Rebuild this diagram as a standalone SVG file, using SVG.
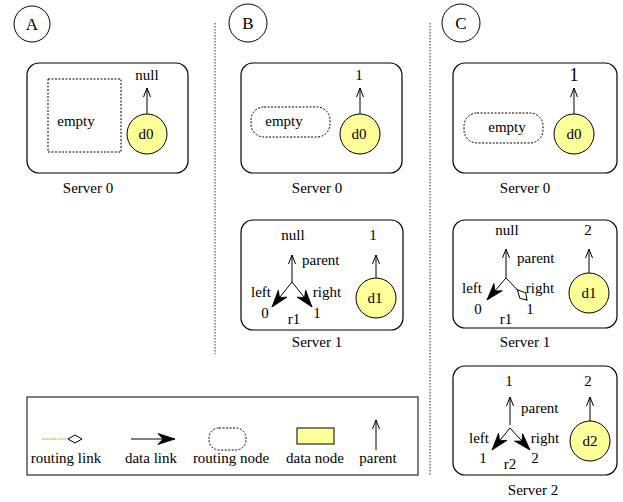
<svg xmlns="http://www.w3.org/2000/svg" width="623" height="502" viewBox="0 0 623 502">
<style>
text{font-family:"Liberation Serif","Times New Roman",serif;font-size:15px;fill:#000;text-anchor:middle}
.st{text-anchor:start}
.lbl{font-size:17px}
.srv{fill:none;stroke:#000;stroke-width:1.2}
.dnode{fill:#ffff99;stroke:#000;stroke-width:1}
.rnode{fill:none;stroke:#000;stroke-width:1;stroke-dasharray:2,1.5}
.sep{stroke:#333;stroke-width:1;stroke-dasharray:1.5,1.5}
.par{stroke:#000;stroke-width:1;fill:none;marker-end:url(#mPar)}
.dat{stroke:#000;stroke-width:1;fill:none;marker-end:url(#mDat)}
.rou{stroke:#000;stroke-width:1;fill:none;marker-end:url(#mRou)}
</style>
<defs>
<marker id="mPar" markerUnits="userSpaceOnUse" viewBox="-10 -6 12 12" refX="0" refY="0" markerWidth="12" markerHeight="12" orient="auto">
<path d="M-9,-3.5 L0,0 L-9,3.5" fill="none" stroke="#000" stroke-width="1"/>
</marker>
<marker id="mDat" markerUnits="userSpaceOnUse" viewBox="-18 -7 20 14" refX="0" refY="0" markerWidth="20" markerHeight="14" orient="auto">
<path d="M0,0 L-17,-5.5 L-12,0 L-17,5.5 Z" fill="#000" stroke="#000" stroke-width="0.8"/>
</marker>
<marker id="mRou" markerUnits="userSpaceOnUse" viewBox="-16 -6 18 12" refX="0" refY="0" markerWidth="18" markerHeight="12" orient="auto">
<path d="M0,0 L-6,-4 L-14,0 L-6,4 Z" fill="#fff" stroke="#000" stroke-width="1"/>
</marker>
</defs>

<g id="separators">
<line class="sep" x1="215" y1="23" x2="215" y2="354"/>
<line class="sep" x1="430" y1="23" x2="430" y2="476"/>
</g>

<g id="labelA"><circle cx="32" cy="24" r="18" fill="none" stroke="#000"/><text class="lbl" x="32" y="30">A</text></g>
<g id="labelB"><circle cx="248" cy="23" r="19" fill="none" stroke="#000"/><text class="lbl" x="248" y="29">B</text></g>
<g id="labelC"><circle cx="461" cy="23" r="19" fill="none" stroke="#000"/><text class="lbl" x="461" y="29">C</text></g>

<!-- Panel A -->
<g id="A-server0">
<rect class="srv" x="27" y="63" width="161" height="110" rx="12"/>
<rect class="rnode" x="48" y="79" width="73" height="73" rx="0"/>
<text x="76" y="126">empty</text>
<circle class="dnode" cx="147" cy="134" r="20"/>
<text x="146" y="139">d0</text>
<text x="147" y="80">null</text>
<text x="88" y="193">Server 0</text>
</g>

<!-- Panel B -->
<g id="B-server0">
<rect class="srv" x="241" y="63" width="161" height="110" rx="12"/>
<rect class="rnode" x="251" y="107" width="79" height="30" rx="13"/>
<text x="284" y="126">empty</text>
<circle class="dnode" cx="360" cy="134" r="20"/>
<text x="359" y="139">d0</text>
<text x="359" y="80">1</text>
<text x="317" y="193">Server 0</text>
</g>
<g id="B-server1">
<rect class="srv" x="241" y="220" width="162" height="110" rx="12"/>
<text x="293" y="240">null</text>
<text class="st" x="302" y="265">parent</text>
<text x="261" y="297">left</text>
<text x="327" y="297">right</text>
<text x="265" y="318">0</text>
<text x="317" y="318">1</text>
<text x="294" y="324">r1</text>
<text x="373" y="240">1</text>
<circle class="dnode" cx="376" cy="298" r="20"/>
<text x="375" y="303">d1</text>
<text x="317" y="347">Server 1</text>
</g>

<!-- Panel C -->
<g id="C-server0">
<rect class="srv" x="453" y="63" width="164" height="110" rx="12"/>
<rect class="rnode" x="464" y="113" width="79" height="30" rx="13"/>
<text x="507" y="132">empty</text>
<circle class="dnode" cx="574" cy="134" r="20"/>
<text x="574" y="139">d0</text>
<text x="574" y="81" style="font-size:18px">1</text>
<text x="525" y="193">Server 0</text>
</g>
<g id="C-server1">
<rect class="srv" x="453" y="220" width="164" height="108" rx="12"/>
<text x="507" y="235">null</text>
<text class="st" x="517" y="263">parent</text>
<text x="472" y="293">left</text>
<text x="540" y="293">right</text>
<text x="478" y="314">0</text>
<text x="530" y="314">1</text>
<text x="506" y="324">r1</text>
<text x="588" y="235">2</text>
<circle class="dnode" cx="589" cy="293" r="20"/>
<text x="589" y="298">d1</text>
<text x="525" y="347">Server 1</text>
</g>
<g id="C-server2">
<rect class="srv" x="453" y="366" width="164" height="109" rx="12"/>
<text x="509" y="386">1</text>
<text class="st" x="521" y="413">parent</text>
<text x="479" y="443">left</text>
<text x="545" y="443">right</text>
<text x="483" y="463">1</text>
<text x="535" y="463">2</text>
<text x="510" y="469">r2</text>
<text x="588" y="386">2</text>
<circle class="dnode" cx="590" cy="441" r="20"/>
<text x="590" y="446">d2</text>
<text x="533" y="495">Server 2</text>
</g>

<!-- Legend -->
<g id="legend">
<rect x="27" y="397" width="391" height="78" fill="none" stroke="#000" stroke-width="1"/>
<line x1="42" y1="439" x2="68" y2="439" stroke="#999900" stroke-width="1" stroke-dasharray="1.5,1"/>
<path d="M82,439 L75,435 L68,439 L75,443 Z" fill="#fff" stroke="#000" stroke-width="1"/>
<text x="66" y="463">routing link</text>
<line class="dat" x1="131" y1="439" x2="175" y2="439"/>
<text x="151" y="463">data link</text>
<rect class="rnode" x="209" y="428" width="37" height="22" rx="10"/>
<text x="231" y="463">routing node</text>
<rect class="dnode" x="297" y="428" width="37" height="16"/>
<text x="315" y="463">data node</text>
<line class="par" x1="376" y1="450" x2="376" y2="420"/>
<text x="378" y="463">parent</text>
</g>

<g id="connectors">
<line class="par" x1="147" y1="114" x2="147" y2="88"/>
<line class="par" x1="360" y1="114" x2="360" y2="88"/>
<line class="par" x1="292" y1="282" x2="292" y2="255"/>
<line class="dat" x1="292" y1="282" x2="272" y2="307"/>
<line class="dat" x1="292" y1="282" x2="312" y2="307"/>
<line class="par" x1="376" y1="278" x2="376" y2="255"/>
<line class="par" x1="574" y1="114" x2="574" y2="88"/>
<line class="par" x1="506" y1="278" x2="506" y2="249"/>
<line class="dat" x1="506" y1="278" x2="487" y2="300"/>
<line class="rou" x1="506" y1="278" x2="527" y2="300"/>
<line class="par" x1="589" y1="273" x2="589" y2="249"/>
<line class="par" x1="510" y1="425" x2="510" y2="397"/>
<line class="dat" x1="510" y1="428" x2="492" y2="450"/>
<line class="dat" x1="510" y1="428" x2="530" y2="450"/>
<line class="par" x1="590" y1="421" x2="590" y2="397"/>
</g>
</svg>
